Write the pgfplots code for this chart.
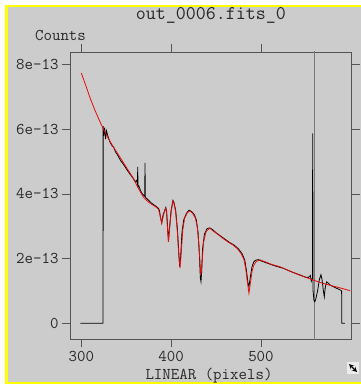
\documentclass[border=0pt]{standalone}
\usepackage{pgfplots}
\pgfplotsset{compat=1.18}
\usepackage{fontspec}
\definecolor{bgc}{RGB}{204,204,204}
\definecolor{axc}{RGB}{85,85,85}
\definecolor{txc}{RGB}{40,40,40}
\definecolor{vlc}{RGB}{120,120,120}
\definecolor{modc}{RGB}{230,10,10}
\definecolor{ybord}{RGB}{255,255,0}
\begin{document}
\begin{tikzpicture}
\path[use as bounding box] (0,0) rectangle (361bp,-384bp);
\fill[white] (0,0) rectangle (361bp,-384bp);
\fill[bgc] (5bp,-5bp) rectangle (361bp,-384bp);
\fill[ybord] (5bp,-5bp) rectangle (7.5bp,-384bp);
\fill[ybord] (5bp,-5bp) rectangle (361bp,-6.8bp);
\fill[ybord] (5bp,-382bp) rectangle (361bp,-384bp);
\begin{axis}[
  at={(70bp,-339.3bp)}, anchor=south west,
  scale only axis, width=281.7bp, height=287.3bp,
  xmin=287.4, xmax=601, ymin=-0.495, ymax=8.39,
  axis line style={axc, line width=0.9bp},
  tick style={axc, line width=0.9bp},
  tick align=outside, tick pos=both,
  major tick length=8bp,
  xtick={300,400,500}, xticklabels={300,400,500},
  ytick={0,2,4,6,8}, yticklabels={0,2e-13,4e-13,6e-13,8e-13},
  ticklabel style={font=\ttfamily\fontsize{16.5}{16.5}\selectfont, text=txc},
  /pgf/number format/assume math mode=true,
  scaled y ticks=false,
  clip=true,
]
\addplot[vlc, line width=0.9bp] coordinates {(559,-1) (559,9)};
\addplot[black, line width=0.8bp] coordinates {
(299,0) (324.2,0) (324.3,6.1) (325,5.8) (326,6.05) (327,5.7) (328,5.95) (330,5.75) (332,5.6) (334,5.5) (336,5.45) (338,5.3) (340,5.22) (342,5.12) (344,5.02) (346,4.95) (348,4.87) (350,4.78) (352,4.7) (354,4.62) (356,4.55) (358,4.47) (360,4.38) (361.5,4.42) (362.5,4.3) (362.8,4.84) (363.1,4.22) (364,4.25) (366,4.1) (368,4.0) (370.6,3.93) (370.9,4.96) (371.2,3.92) (372,3.88) (375,3.8) (378,3.72) (381,3.66) (384,3.6) (386,3.55) (387,3.48) (388,3.3) (389.5,3.1) (391,3.35) (393,3.5) (394,3.58) (395,3.45) (396,3.0) (397,2.55) (398,2.9) (400,3.5) (402,3.8) (403,3.75) (405,3.5) (407,2.9) (408.5,2.2) (409.5,1.75) (410.5,2.0) (412,2.8) (414,3.2) (417,3.4) (420,3.5) (423,3.45) (426,3.35) (428,3.2) (430,2.8) (431.5,2.1) (432.5,1.4) (433.2,1.29) (434,1.6) (435,2.3) (437,2.75) (440,2.93) (443,2.95) (446,2.9) (450,2.8) (455,2.7) (460,2.6) (465,2.5) (470,2.42) (475,2.3) (479,2.15) (482,1.95) (484,1.6) (485.5,1.25) (486.6,1.13) (488,1.4) (490,1.75) (492,1.9) (494,1.95) (497,1.97) (500,1.93) (505,1.88) (510,1.83) (515,1.78) (520,1.74) (525,1.7) (530,1.64) (535,1.58) (540,1.53) (545,1.48) (550,1.42) (553,1.42) (555,1.48) (556,1.3) (557.3,1.4) (557.6,5.87) (558,1.0) (559,0.7) (560,0.67) (561,0.75) (563,1.0) (565,1.35) (566.8,1.5) (568,1.35) (569.5,1.0) (570.5,0.82) (571.5,1.1) (573,1.28) (575,1.24) (577,1.18) (580,1.14) (583,1.1) (586,1.06) (589,1.02) (589.8,1.0) (589.9,0) (593.5,0)
};
\addplot[modc, line width=0.8bp] coordinates {
(300,7.74) (305,7.35) (310,6.95) (315,6.6) (320,6.28) (325,5.98) (330,5.72) (335,5.48) (340,5.27) (345,5.05) (350,4.83) (355,4.61) (358,4.48) (362,4.25) (366,4.05) (369,3.91) (372,3.82) (376,3.72) (380,3.65) (384,3.58) (386,3.52) (388,3.3) (389.5,3.1) (391,3.3) (393,3.5) (394,3.56) (395,3.4) (396,2.9) (397,2.52) (398,2.85) (400,3.45) (402,3.78) (403,3.72) (405,3.45) (407,2.8) (408.5,2.1) (409.9,1.71) (411,2.1) (413,2.9) (415,3.25) (418,3.42) (421,3.48) (424,3.4) (427,3.25) (429,3.0) (431,2.4) (432.5,1.7) (433.2,1.49) (434.5,1.9) (436,2.5) (439,2.85) (443,2.94) (447,2.85) (452,2.75) (458,2.62) (464,2.5) (469,2.42) (474,2.3) (478,2.15) (481,1.98) (483,1.7) (485,1.25) (486.6,0.93) (488,1.2) (490,1.6) (492,1.8) (495,1.92) (499,1.96) (505,1.9) (512,1.82) (521,1.75) (530,1.64) (543,1.49) (550,1.42) (558,1.34) (565,1.27) (572,1.21) (580.5,1.15) (590,1.08) (599,1.01)
};
\end{axis}
\node[text=txc, font=\ttfamily\fontsize{19.5}{19.5}\selectfont] at (210.9bp,-15.5bp) {out\_0006.fits\_0};
\node[text=txc, font=\ttfamily\fontsize{16.5}{16.5}\selectfont] at (60.5bp,-35bp) {Counts};
\node[text=txc, font=\ttfamily\fontsize{16.5}{16.5}\selectfont] at (209bp,-376bp) {LINEAR (pixels)};
\fill[gray!15] (347bp,-362bp) rectangle (359bp,-374bp);
\draw[black, line width=1.2bp, <->, >=stealth] (349bp,-364bp) -- (357bp,-372bp);
\end{tikzpicture}
\end{document}
